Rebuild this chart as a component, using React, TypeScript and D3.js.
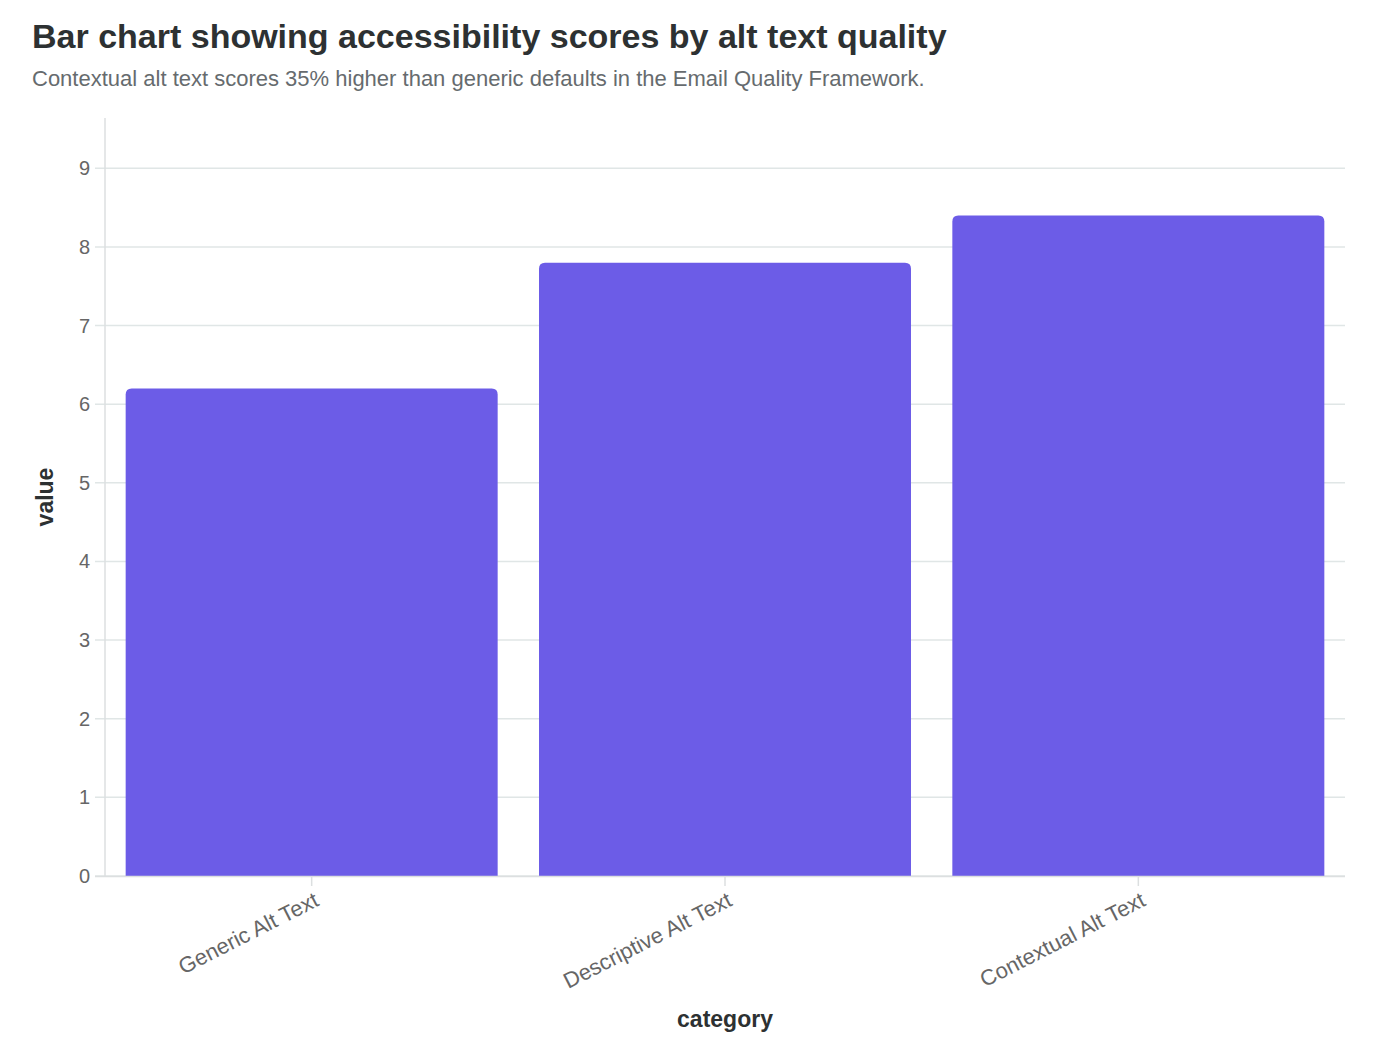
import React from "react";
import * as d3 from "d3";

const categories = ["Generic Alt Text", "Descriptive Alt Text", "Contextual Alt Text"];
const values = [6.2, 7.8, 8.4];
const yTicks = [0, 1, 2, 3, 4, 5, 6, 7, 8, 9];
const yDomainMax = 9.64;

const W = 1394;
const H = 1062;
const M = { left: 105, right: 1345, top: 118, bottom: 876 };
const FONT = "'Liberation Sans', Arial, Helvetica, sans-serif";

function topRoundedBar(x: number, y: number, w: number, h: number, r: number) {
  const rr = Math.min(r, w / 2, h);
  return `M${x},${y + h}V${y + rr}Q${x},${y} ${x + rr},${y}H${x + w - rr}Q${x + w},${y} ${x + w},${y + rr}V${y + h}Z`;
}

export default function App() {
  const x = d3.scaleBand<string>().domain(categories).range([M.left, M.right]).paddingInner(0.1).paddingOuter(0.05);
  const y = d3.scaleLinear().domain([0, yDomainMax]).range([M.bottom, M.top]);
  const angle = -27;

  return (
    <svg width={W} height={H} style={{ position: "absolute", left: 0, top: 0, background: "#fff" }} fontFamily={FONT}>
      <text x={32} y={48} fontSize={34} fontWeight="bold" fill="#2d3132">
        Bar chart showing accessibility scores by alt text quality
      </text>
      <text x={32} y={86} fontSize={22} fill="#666b6e">
        Contextual alt text scores 35% higher than generic defaults in the Email Quality Framework.
      </text>

      {yTicks.map((t) => (
        <g key={t}>
          <line x1={M.left - 10} x2={M.right} y1={y(t)} y2={y(t)} stroke="#e0e6e6" strokeWidth={1.5} />
          <text x={90} y={y(t)} dy="0.35em" textAnchor="end" fontSize={20} fill="#666">
            {t}
          </text>
        </g>
      ))}
      <line x1={M.left} x2={M.left} y1={M.top} y2={M.bottom} stroke="#dcdfe0" strokeWidth={1.5} />

      {categories.map((c, i) => (
        <path
          key={c}
          d={topRoundedBar(x(c)!, y(values[i]), x.bandwidth(), y(0) - y(values[i]), 6)}
          fill="#6c5ce7"
        />
      ))}

      <line x1={M.left - 10} x2={M.right} y1={M.bottom + 0.5} y2={M.bottom + 0.5} stroke="#dcdfe0" strokeWidth={1.5} />
      {categories.map((c) => {
        const cx = x(c)! + x.bandwidth() / 2;
        return (
          <g key={c}>
            <line x1={cx} x2={cx} y1={M.bottom + 1} y2={M.bottom + 10} stroke="#dcdfe0" strokeWidth={1.5} />
            <text
              transform={`translate(${cx + 5},${M.bottom + 22}) rotate(${angle})`}
              textAnchor="end"
              dy="0.35em"
              fontSize={22}
              fill="#666"
            >
              {c}
            </text>
          </g>
        );
      })}

      <text
        transform={`translate(53,${(M.top + M.bottom) / 2}) rotate(-90)`}
        textAnchor="middle"
        fontSize={23}
        fontWeight="bold"
        fill="#2d3132"
      >
        value
      </text>
      <text x={(M.left + M.right) / 2} y={1027} textAnchor="middle" fontSize={23} fontWeight="bold" fill="#2d3132">
        category
      </text>
    </svg>
  );
}
